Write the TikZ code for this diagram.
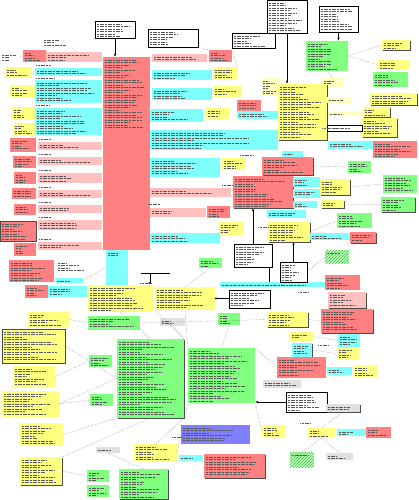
\documentclass[tikz,border=0pt]{standalone}
\usetikzlibrary{shadows,patterns,calc,arrows.meta}
\definecolor{redf}{HTML}{FF8080}
\definecolor{cyanf}{HTML}{80FFFF}
\definecolor{yellowf}{HTML}{FFFF80}
\definecolor{greenf}{HTML}{80FF80}
\definecolor{pinkf}{HTML}{FFC0C0}
\definecolor{bluef}{HTML}{8080FF}
\definecolor{grayf}{HTML}{E0E0E0}
\definecolor{lyellowf}{HTML}{FFFFC0}
\definecolor{hatchf}{HTML}{40C040}

% a box at pixel coordinates, with its unreadable lines of text as strokes
\newcommand\boxat[7]{%
  \node[#2, anchor=north west, minimum width={(#5-#3)*1pt}, minimum height={(#6-#4)*1pt}] (#1) at (#3,#4) {};
  \pgfmathtruncatemacro\nl{#7>0 ? #7 : max(1,(#6-#4-2)/2.5)}%
  \foreach \i in {1,...,\nl}{%
    \pgfmathsetmacro\ww{(#5-#3-3)*(0.3+0.6*rnd)}%
    \draw[txt] (#3+1.5,#4+0.5+\i*2.5) -- ++(\ww,0);}%
}
\newcommand\lbl[3]{\draw[txt] (#1,#2) -- ++(#3,0);}

\begin{document}
\begin{tikzpicture}[x=1pt, y=-1pt,
  box/.style = {inner sep=0pt, outer sep=0pt},
  rbox/.style = {box, fill=redf},
  cbox/.style = {box, fill=cyanf},
  ybox/.style = {box, fill=yellowf},
  gbox/.style = {box, fill=greenf},
  pbox/.style = {box, fill=pinkf},
  bluebox/.style = {box, fill=bluef},
  grbox/.style = {box, fill=grayf},
  lybox/.style = {box, fill=lyellowf},
  wbox/.style = {box, fill=white},
  nbox/.style = {box, fill=white, draw=black, line width=0.4pt},
  hatchbox/.style = {box, fill=greenf!50!white, postaction={pattern=north east lines, pattern color=hatchf}},
  shd/.style = {drop shadow={shadow xshift=1pt, shadow yshift=-1pt, fill=black!70, opacity=1}},
  bord/.style = {draw=black!70, line width=0.5pt},
  txt/.style = {line width=0.6pt, black!65, dash pattern=on 1.2pt off 0.4pt},
  link/.style = {densely dotted, black!55, line width=0.4pt},
  ptr/.style = {-{Latex[length=3pt]}, line width=0.8pt},
  bar/.style = {line width=0.8pt}]
\fill[white] (0,0) rectangle (418,500);
\useasboundingbox (0,0) rectangle (418,500);
\pgfmathsetseed{7}

% notes along the top
\boxat{n1}{wbox}{0}{52}{20}{63}{0}
\boxat{n2}{wbox}{42}{37}{72}{47}{0}
\boxat{ntop}{nbox,shd}{95}{21}{135}{38}{0}
\boxat{n8}{nbox,shd}{148}{29}{198}{47}{0}
\boxat{n9}{nbox,shd}{232}{33}{275}{48}{0}
\boxat{nt2}{nbox,shd}{267}{0}{307}{33}{0}
\boxat{n10}{nbox,shd}{319}{6}{358}{32}{0}

% the big red one and its fields
\boxat{br}{rbox}{103}{57}{150}{250}{28}
\boxat{r1}{rbox}{23}{50}{46}{62}{0}
\boxat{p1}{pbox}{46}{52}{102}{62}{0}
\boxat{c1}{cbox}{35}{68}{102}{76}{0}
\boxat{c2}{cbox}{35}{80}{102}{103}{0}
\boxat{c3}{cbox}{35}{108}{102}{135}{0}
\boxat{y1}{ybox}{5}{67}{32}{78}{0}
\boxat{y2}{ybox}{10}{85}{35}{98}{0}
\boxat{y3}{ybox}{12}{107}{35}{120}{0}
\boxat{y4}{ybox}{13}{123}{35}{135}{0}
\boxat{p2}{pbox}{38}{142}{102}{150}{0}
\boxat{p3}{pbox}{38}{157}{102}{165}{0}
\boxat{p4}{pbox}{38}{173}{102}{183}{0}
\boxat{p5}{pbox}{38}{190}{102}{198}{0}
\boxat{p6}{pbox}{38}{205}{102}{213}{0}
\boxat{p7}{pbox}{38}{220}{102}{230}{0}
\boxat{p8}{pbox}{38}{242}{102}{250}{0}
\boxat{r2}{rbox}{10}{138}{36}{152}{0}
\boxat{r3}{rbox}{13}{156}{36}{168}{0}
\boxat{r4}{rbox}{14}{172}{36}{184}{0}
\boxat{r5}{rbox}{12}{188}{36}{199}{0}
\boxat{r6}{rbox}{14}{204}{36}{215}{0}
\boxat{r7}{rbox,bord}{0}{221}{36}{241}{0}
\boxat{r8}{rbox}{14}{243}{36}{256}{0}
\boxat{cb}{cbox}{106}{250}{128}{285}{2}
\foreach \yy in {139,154,170,187,202,217,239} {\lbl{39}{\yy}{12}}
\lbl{36}{65}{15} \lbl{36}{78}{18} \lbl{36}{105}{14}

% lower left
\boxat{r9}{rbox}{9}{260}{54}{282}{0}
\boxat{n3}{wbox}{56}{260}{90}{273}{0}
\boxat{c5}{cbox}{55}{278}{83}{283}{1}
\boxat{r10}{rbox}{25}{285}{48}{298}{0}
\boxat{c4}{cbox}{48}{286}{87}{297}{0}
\boxat{y5}{ybox}{88}{285}{153}{312}{0}
\boxat{y6}{ybox}{155}{287}{215}{310}{0}
\boxat{y7}{ybox}{28}{312}{70}{327}{0}
\boxat{g1}{gbox}{88}{316}{140}{330}{0}
\boxat{y8}{ybox,bord,shd}{2}{329}{65}{363}{0}
\boxat{g2}{gbox}{89}{355}{112}{367}{0}
\boxat{y9}{ybox}{13}{366}{55}{387}{0}
\boxat{gb}{gbox,shd}{117}{339}{184}{418}{0}
\boxat{y10}{ybox}{2}{391}{59}{417}{0}
\boxat{g3}{gbox}{90}{394}{113}{406}{0}
\boxat{y11}{ybox}{20}{423}{63}{446}{0}
\boxat{y12}{ybox,shd}{20}{457}{62}{485}{0}
\boxat{g4}{gbox}{87}{470}{109}{482}{0}
\boxat{g5}{gbox}{87}{485}{109}{497}{0}
\boxat{gr1}{grbox}{96}{447}{120}{453}{1}
\boxat{g6}{gbox,shd}{119}{469}{168}{499}{0}
\boxat{y13}{ybox}{134}{444}{177}{462}{0}
\boxat{c6}{cbox}{179}{455}{203}{461}{1}
\boxat{r11}{rbox,shd}{204}{454}{265}{478}{0}
\boxat{bl}{bluebox}{181}{425}{250}{444}{0}
\boxat{gb2}{gbox}{188}{348}{255}{403}{0}

% lower right
\boxat{y14}{ybox}{262}{425}{285}{437}{0}
\boxat{gr2}{grbox}{263}{380}{301}{388}{0}
\boxat{n4}{nbox}{286}{392}{327}{412}{0}
\boxat{gr3}{grbox,shd}{326}{404}{360}{412}{0}
\boxat{y15}{ybox}{308}{428}{335}{438}{0}
\boxat{c7}{cbox}{337}{429}{366}{436}{0}
\boxat{r12}{rbox}{366}{427}{391}{438}{0}
\boxat{h1}{hatchbox}{290}{452}{314}{467}{1}
\boxat{gr4}{grbox}{326}{453}{353}{460}{0}

% middle
\boxat{g7}{gbox}{199}{258}{222}{268}{0}
\boxat{n5}{nbox,shd}{234}{244}{272}{267}{0}
\boxat{cbar}{cbox}{220}{282}{325}{287}{1}
\boxat{n6}{nbox,shd}{229}{290}{270}{308}{0}
\boxat{g8}{gbox}{218}{313}{240}{325}{0}
\boxat{gr5}{grbox}{160}{318}{185}{326}{0}
\boxat{y16}{ybox,shd}{267}{312}{308}{327}{0}
\boxat{h2}{hatchbox}{325}{250}{349}{263}{1}
\boxat{n7}{nbox,shd}{280}{262}{307}{282}{0}
\boxat{r13}{rbox}{325}{275}{360}{290}{0}
\boxat{p9}{pbox,shd}{328}{292}{366}{308}{0}
\boxat{r14}{rbox,shd}{321}{309}{373}{333}{0}
\boxat{y17}{ybox}{290}{332}{313}{341}{0}
\boxat{c8}{cbox,shd}{292}{343}{312}{357}{0}
\boxat{r15}{rbox}{277}{357}{326}{378}{0}
\boxat{c9}{cbox}{338}{334}{360}{347}{0}
\boxat{y18}{ybox}{337}{347}{359}{360}{0}
\boxat{c10}{cbox}{327}{367}{352}{375}{0}
\boxat{y19}{ybox}{353}{365}{378}{377}{0}

% upper middle
\boxat{r17}{rbox}{209}{50}{232}{62}{0}
\boxat{p10}{pbox}{152}{54}{207}{62}{0}
\boxat{c11}{cbox}{152}{70}{212}{80}{0}
\boxat{y20}{ybox}{213}{67}{237}{80}{0}
\boxat{c12}{cbox}{152}{88}{212}{100}{0}
\boxat{y21}{ybox}{213}{86}{242}{97}{0}
\boxat{r18}{rbox}{237}{100}{261}{111}{0}
\boxat{c13}{cbox}{237}{111}{278}{119}{0}
\boxat{y22}{ybox}{206}{108}{229}{119}{0}
\boxat{c14}{cbox}{150}{109}{203}{122}{0}
\boxat{ly1}{lybox}{261}{78}{280}{95}{0}
\boxat{c22}{cbox}{150}{130}{278}{150}{0}
\boxat{c23}{cbox}{150}{158}{220}{177}{0}
\boxat{y31}{ybox}{222}{158}{246}{170}{0}
\boxat{p11}{pbox}{150}{188}{231}{197}{0}
\boxat{p12}{pbox}{150}{208}{206}{217}{0}
\boxat{r23}{rbox}{207}{206}{230}{218}{0}
\boxat{c24}{cbox}{150}{233}{220}{243}{0}
\boxat{y32}{ybox}{219}{222}{243}{235}{0}

% upper right
\boxat{g9}{gbox}{306}{41}{348}{71}{0}
\boxat{y23}{ybox,shd}{382}{40}{410}{50}{0}
\boxat{y24}{ybox}{378}{60}{410}{70}{0}
\boxat{g10}{gbox}{373}{72}{408}{87}{0}
\boxat{ly2}{lybox}{322}{78}{344}{87}{0}
\boxat{yb}{ybox,shd}{278}{84}{327}{140}{0}
\boxat{y25}{ybox,shd}{370}{93}{417}{105}{0}
\boxat{y26}{ybox,shd}{363}{107}{390}{117}{0}
\boxat{y27}{ybox,shd}{362}{118}{397}{137}{0}
\boxat{ly3}{lybox}{327}{97}{352}{103}{0}
\boxat{ly4}{lybox}{328}{111}{362}{115}{1}
\boxat{w1}{nbox}{327}{125}{362}{131}{0}
\boxat{c15}{cbox}{328}{141}{373}{149}{0}
\boxat{r19}{rbox}{373}{141}{417}{158}{0}
\boxat{r20}{rbox,shd}{262}{157}{313}{175}{0}
\boxat{c16}{cbox}{282}{151}{303}{157}{0}
\boxat{r21}{rbox,shd}{233}{176}{293}{208}{0}
\boxat{c17}{cbox}{293}{177}{320}{187}{0}
\boxat{c18}{cbox}{293}{189}{320}{198}{0}
\boxat{c19}{cbox}{293}{201}{317}{208}{0}
\boxat{y28}{ybox,shd}{320}{179}{350}{195}{0}
\boxat{y29}{ybox,shd}{321}{200}{344}{208}{0}
\boxat{g11}{gbox}{348}{161}{371}{173}{0}
\boxat{g12}{gbox}{383}{175}{417}{193}{0}
\boxat{g13}{gbox,shd}{381}{197}{415}{212}{0}
\boxat{c20}{cbox}{267}{210}{306}{218}{0}
\boxat{y30}{ybox,shd}{268}{222}{310}{242}{0}
\boxat{g14}{gbox}{337}{213}{372}{228}{0}
\boxat{c21}{cbox}{310}{233}{350}{240}{0}
\boxat{r22}{rbox,shd}{350}{232}{376}{243}{0}

% dotted links
\draw[link] (n1.east) -- (r1.west);
\draw[link] (n2.south east) -- (p1.north);
\draw[link] (n8.south east) -- (r17.north west);
\draw[link] (n9.south west) -- (y20.north east);
\draw[link] (g9.east) -- (y23.west);
\draw[link] (g9.east) -- (y24.west);
\draw[link] (g9.south) -- (ly2.north);
\draw[link] (r20.east) -- (g11.west);
\draw[link] (y28.east) -- (g12.west);
\draw[link] (y29.east) -- (g13.west);
\draw[link] (y30.east) -- (g14.west);
\draw[link] (c24.east) -- (y32.west);
\draw[link] (c23.east) -- (y31.west);
\draw[link] (c14.east) -- (y22.west);
\draw[link] (c5.east) -- (cb.west);
\draw[link] (y5.south) -- (gb.north);
\draw[link] (y6.south west) -- (gb.north east);
\draw[link] (y6.south) -- (gb2.north west);
\draw[link] (g7.south) -- (y6.north);
\draw[link] (g8.south) -- (gb2.north);
\draw[link] (gr5.south) -- (gb.north east);
\draw[link] (y7.east) -- (g1.west);
\draw[link] (g1.east) -- (y16.west);
\draw[link] (y8.east) -- (gb.west);
\draw[link] (y9.east) -- (g2.west);
\draw[link] (g2.east) -- (gb.west);
\draw[link] (y10.east) -- (gb.west);
\draw[link] (y10.east) -- (g3.west);
\draw[link] (y11.east) -- (gb.south west);
\draw[link] (y12.east) -- (g4.west);
\draw[link] (y12.north east) -- (gb.south);
\draw[link] (gr1.south) -- (g6.north);
\draw[link] (gb.south east) -- (y13.north);
\draw[link] (y13.east) -- (bl.west);
\draw[link] (gb.south east) -- (gb2.south west);
\draw[link] (y14.west) -- (gb2.south east);
\draw[link] (gr3.south) -- (y15.north);
\draw[link] (y15.south) -- (h1.north);
\draw[link] (y15.south) -- (gr4.north);
\draw[link] (y16.east) -- (r14.west);
\draw[link] (y17.east) -- (c9.west);
\draw[link] (c8.east) -- (y18.west);
\draw[link] (r15.east) -- (c10.west);
\draw[link] (n7.east) -- (h2.west);
\draw[link] (gb2.north east) -- (r15.west);

% black pointers
\draw[ptr] (ntop.south) -- (ntop.south |- br.north);
\draw[ptr] (nt2.south) -- (nt2.south |- yb.north);
\draw[ptr] (n10.south) -- (n10.south |- g9.north);
\draw[ptr] (n5.north) -- (n5.north |- r21.south);
\draw[ptr] (n7.north) -- (n7.north |- y30.south);
\draw[ptr] (n4.west) -- (n4.west -| gb2.east);
\draw[bar, {Circle[length=2pt]}-] (y6.east) -- (y6.east -| n6.west);
\coordinate (n5b) at ($(n5.south east)+(-3,0)$);
\draw[bar] (n5b) -- (n5b |- cbar.north);
\coordinate (brk1) at (141,273);
\coordinate (brk2) at (170,273);
\coordinate (brk) at (150,273);
\draw[bar] (brk1) -- (brk2);
\draw[ptr] (brk) -- (brk |- y5.north);

% small labels beside the links
\lbl{322}{128}{22} \lbl{240}{155}{14} \lbl{222}{185}{10} \lbl{148}{204}{12}
\lbl{258}{227}{10} \lbl{140}{283}{12} \lbl{298}{292}{10} \lbl{318}{345}{10}
\lbl{300}{423}{10} \lbl{172}{437}{10}
\end{tikzpicture}
\end{document}
